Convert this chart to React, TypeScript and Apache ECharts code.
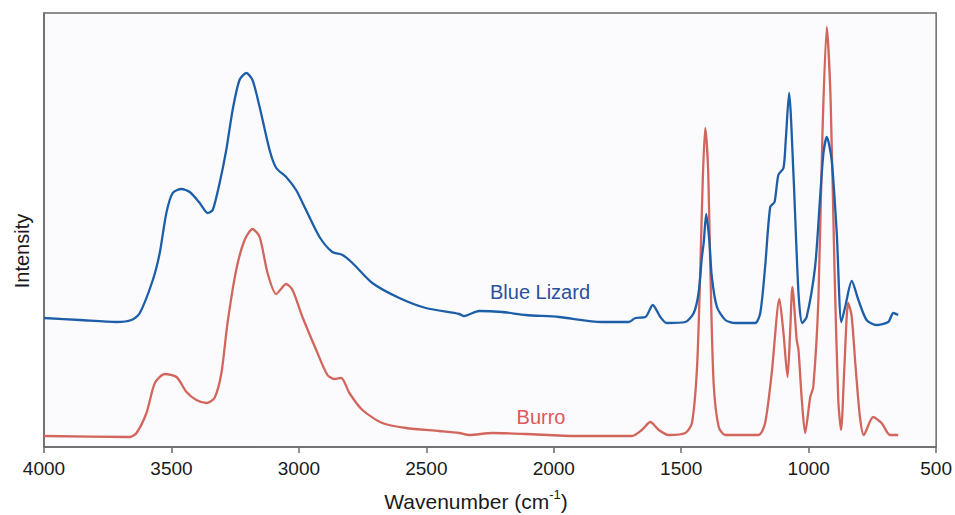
import React, { useEffect, useRef } from "react";
import * as echarts from "echarts";

const xTicks = [4000, 3500, 3000, 2500, 2000, 1500, 1000, 500];

const blueWavenumber = [
  4000, 3859, 3715, 3657, 3624, 3573, 3546, 3520, 3495, 3461, 3428, 3389, 3358, 3338, 3311, 3285,
  3260, 3233, 3206, 3182, 3154, 3115, 3089, 3050, 3011, 2972, 2919, 2869, 2829, 2790, 2712, 2606,
  2502, 2371, 2352, 2293, 2203, 2110, 1980, 1812, 1706, 1680, 1640, 1612, 1582, 1557, 1484, 1451,
  1432, 1419, 1412, 1402, 1390, 1380, 1360, 1327, 1288, 1210, 1190, 1171, 1151, 1134, 1119, 1099,
  1090, 1077, 1060, 1040, 1026, 1008, 975, 956, 942, 929, 910, 890, 872, 857, 831, 805, 773, 735,
  688, 668, 649,
];
const blueIntensity = [
  129, 127, 125, 127, 134, 167, 194, 234, 254, 258, 255, 244, 234, 237, 264, 297,
  337, 367, 374, 367, 340, 297, 279, 270, 257, 237, 210, 195, 192, 184, 164, 149,
  139, 133, 131, 136, 135, 132, 130, 125, 125, 129, 130, 142, 130, 124, 125, 134,
  154, 190, 204, 233, 207, 170, 140, 127, 124, 124, 134, 180, 240, 245, 272, 279,
  307, 354, 274, 154, 124, 130, 180, 247, 294, 310, 287, 214, 125, 140, 166, 147, 127, 122,
  125, 134, 132,
];

const burroWavenumber = [
  4000, 3663, 3637, 3598, 3565, 3526, 3480, 3441, 3402, 3363, 3331, 3304, 3280, 3246, 3213, 3182,
  3154, 3123, 3089, 3050, 3025, 2986, 2932, 2888, 2861, 2834, 2802, 2751, 2673, 2580, 2450, 2371,
  2332, 2242, 2110, 1914, 1694, 1655, 1621, 1588, 1549, 1484, 1458, 1438, 1425, 1416, 1406, 1395,
  1386, 1373, 1353, 1327, 1197, 1171, 1145, 1115, 1099, 1083, 1073, 1064, 1047, 1040, 1027, 1014,
  994, 982, 962, 946, 929, 914, 899, 884, 873, 860, 845, 832, 816, 799, 784, 747, 714, 681, 649,
];
const burroIntensity = [
  11, 10, 14, 34, 64, 73, 70, 55, 47, 44, 49, 74, 124, 177, 207, 218,
  210, 174, 153, 163, 157, 130, 97, 72, 68, 69, 54, 37, 24, 19, 16, 14,
  12, 14, 13, 11, 11, 17, 25, 17, 12, 14, 24, 80, 180, 264, 319, 280,
  180, 64, 20, 12, 12, 24, 74, 148, 114, 70, 114, 160, 107, 97, 47, 14,
  50, 60, 147, 314, 420, 347, 180, 47, 17, 80, 144, 132, 80, 30, 12, 30, 24, 12, 12,
];

const blueData = blueWavenumber.map((w, i) => [w, blueIntensity[i]]);
const burroData = burroWavenumber.map((w, i) => [w, burroIntensity[i]]);

const FONT = "'Liberation Sans', Arial, Helvetica, sans-serif";

export default function App() {
  const ref = useRef<HTMLDivElement>(null);
  useEffect(() => {
    if (!ref.current) return;
    const chart = echarts.init(ref.current, null, { renderer: "svg" });
    chart.setOption({
      animation: false,
      backgroundColor: "#ffffff",
      grid: {
        left: 44,
        right: 17,
        top: 13,
        bottom: 68,
        show: true,
        backgroundColor: "#fbfbfd",
        borderColor: "#6a6a6a",
        borderWidth: 1.5,
      },
      xAxis: {
        type: "value",
        inverse: true,
        min: 500,
        max: 4000,
        interval: 500,
        axisLine: { show: true, lineStyle: { color: "#6a6a6a", width: 1.5 } },
        axisTick: { show: true, inside: false, length: 6, lineStyle: { color: "#6a6a6a", width: 1.5 } },
        axisLabel: {
          fontSize: 19,
          color: "#1a1a1a",
          fontFamily: FONT,
          margin: 12,
          formatter: (v: number) => (xTicks.includes(v) ? String(v) : ""),
        },
        splitLine: { show: false },
      },
      yAxis: {
        type: "value",
        min: 0,
        max: 434,
        axisLine: { show: true, lineStyle: { color: "#6a6a6a", width: 1.5 } },
        axisTick: { show: false },
        axisLabel: { show: false },
        splitLine: { show: false },
      },
      series: [
        {
          name: "Blue Lizard",
          type: "line",
          data: blueData,
          showSymbol: false,
          smooth: 0.25,
          lineStyle: { color: "#1d5ea8", width: 2.3 },
          z: 3,
        },
        {
          name: "Burro",
          type: "line",
          data: burroData,
          showSymbol: false,
          smooth: 0.25,
          lineStyle: { color: "#d2655c", width: 2.3 },
          z: 2,
        },
      ],
      graphic: [
        {
          type: "text",
          x: 540,
          y: 292,
          style: {
            text: "Blue Lizard",
            fill: "#2a50a0",
            font: `20px ${FONT}`,
            align: "center",
            verticalAlign: "middle",
          },
        },
        {
          type: "text",
          x: 541,
          y: 417,
          style: {
            text: "Burro",
            fill: "#e0575e",
            font: `20px ${FONT}`,
            align: "center",
            verticalAlign: "middle",
          },
        },
        {
          type: "text",
          x: 22,
          y: 251,
          rotation: Math.PI / 2,
          style: {
            text: "Intensity",
            fill: "#1a1a1a",
            font: `20px ${FONT}`,
            align: "center",
            verticalAlign: "middle",
          },
        },
        {
          type: "text",
          x: 476,
          y: 500,
          style: {
            text: "{m|Wavenumber (cm}{s|-1}{m|)}",
            fill: "#1a1a1a",
            align: "center",
            verticalAlign: "middle",
            rich: {
              m: { fontSize: 21, fontFamily: FONT, fill: "#1a1a1a", verticalAlign: "bottom", lineHeight: 24 },
              s: { fontSize: 13, fontFamily: FONT, fill: "#1a1a1a", verticalAlign: "top", lineHeight: 24 },
            },
          },
        },
      ],
    });
    return () => chart.dispose();
  }, []);
  return (
    <div
      ref={ref}
      style={{ position: "fixed", left: 0, top: 0, width: 955, height: 515 }}
    />
  );
}
